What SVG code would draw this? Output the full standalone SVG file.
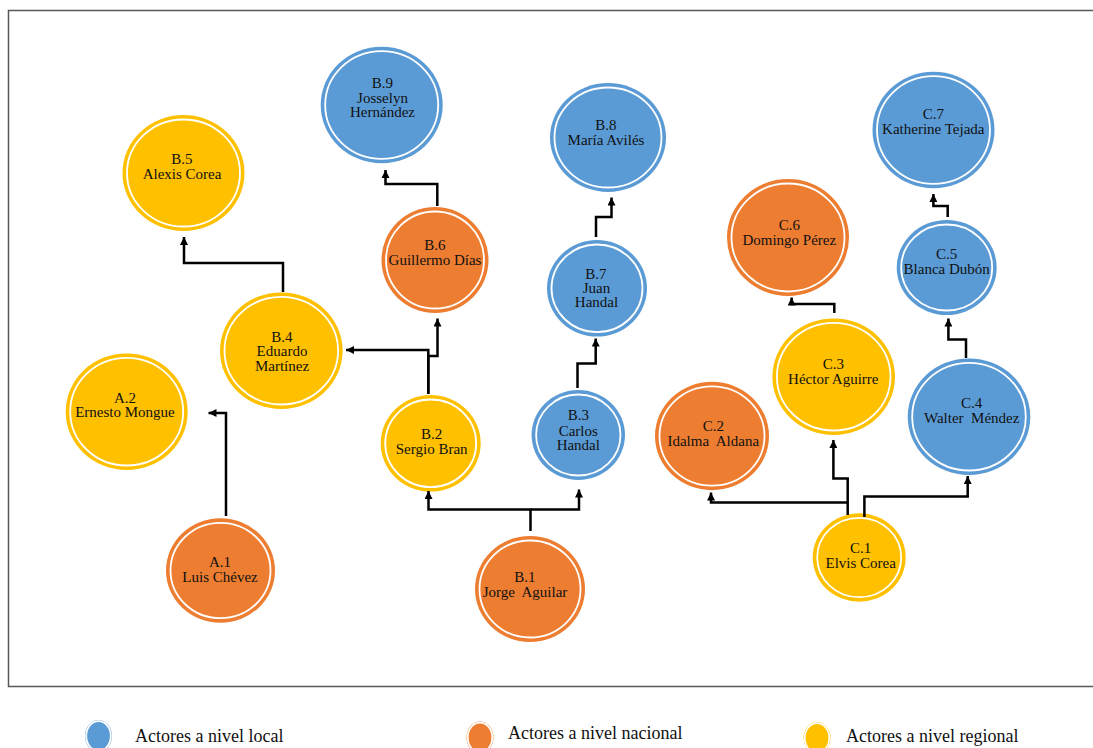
<svg xmlns="http://www.w3.org/2000/svg" width="1093" height="748" viewBox="0 0 1093 748">
<style>
.lbl{font-family:"Liberation Serif","Times New Roman",serif;font-size:15px;fill:#111;text-anchor:middle;white-space:pre}
.leg{font-family:"Liberation Serif","Times New Roman",serif;font-size:18px;fill:#111}
.blue{fill:#5B9BD5}
.orange{fill:#ED7D31}
.yellow{fill:#FFC000}
.ring{fill:none;stroke:#fff;stroke-width:1.8}
.conn path{fill:none;stroke:#000;stroke-width:2.5;marker-end:url(#ah)}
</style>
<defs>
<marker id="ah" markerUnits="userSpaceOnUse" markerWidth="8" markerHeight="8" refX="8" refY="4" orient="auto">
<path d="M0,0 L8,4 L0,8 z" fill="#000"/>
</marker>
</defs>
<rect x="0" y="0" width="1093" height="748" fill="#fff"/>
<rect x="8.5" y="10.5" width="1100" height="676" fill="none" stroke="#595959" stroke-width="1.5"/>

<g id="B5"><ellipse class="yellow" cx="183.5" cy="173" rx="61" ry="58"/><ellipse class="ring" cx="183.5" cy="173" rx="56.5" ry="53.5"/><text class="lbl" x="182" y="164">B.5</text><text class="lbl" x="182" y="179">Alexis Corea</text></g>
<g id="B9"><ellipse class="blue" cx="381.7" cy="105" rx="61" ry="58.3"/><ellipse class="ring" cx="381.7" cy="105" rx="56.5" ry="53.8"/><text class="lbl" x="382.5" y="87.5">B.9</text><text class="lbl" x="382.5" y="102.5">Josselyn</text><text class="lbl" x="382.5" y="117">Hernández</text></g>
<g id="B8"><ellipse class="blue" cx="608" cy="137.5" rx="58" ry="54.5"/><ellipse class="ring" cx="608" cy="137.5" rx="53.5" ry="50"/><text class="lbl" x="606" y="130">B.8</text><text class="lbl" x="606" y="145">María Avilés</text></g>
<g id="B6"><ellipse class="orange" cx="435" cy="260" rx="53.5" ry="53"/><ellipse class="ring" cx="435" cy="260" rx="49" ry="48.5"/><text class="lbl" x="435" y="250">B.6</text><text class="lbl" x="435" y="265">Guillermo Días</text></g>
<g id="B7"><ellipse class="blue" cx="597" cy="288.3" rx="50" ry="48.3"/><ellipse class="ring" cx="597" cy="288.3" rx="45.5" ry="43.8"/><text class="lbl" x="596" y="278.5">B.7</text><text class="lbl" x="596.5" y="293">Juan</text><text class="lbl" x="596.5" y="307">Handal</text></g>
<g id="C7"><ellipse class="blue" cx="933.5" cy="130" rx="61" ry="58.3"/><ellipse class="ring" cx="933.5" cy="130" rx="56.5" ry="53.8"/><text class="lbl" x="933.3" y="119">C.7</text><text class="lbl" x="933.3" y="133.5">Katherine Tejada</text></g>
<g id="C6"><ellipse class="orange" cx="788" cy="237.5" rx="61" ry="58.5"/><ellipse class="ring" cx="788" cy="237.5" rx="56.5" ry="54"/><text class="lbl" x="789.3" y="230">C.6</text><text class="lbl" x="789.3" y="245">Domingo Pérez</text></g>
<g id="C5"><ellipse class="blue" cx="946.7" cy="267.5" rx="50" ry="47.5"/><ellipse class="ring" cx="946.7" cy="267.5" rx="45.5" ry="43"/><text class="lbl" x="946.7" y="258.5">C.5</text><text class="lbl" x="946.7" y="273.5">Blanca Dubón</text></g>
<g id="B4"><ellipse class="yellow" cx="281.3" cy="350.7" rx="61.3" ry="58.3"/><ellipse class="ring" cx="281.3" cy="350.7" rx="56.8" ry="53.8"/><text class="lbl" x="282" y="341.7">B.4</text><text class="lbl" x="282" y="356">Eduardo</text><text class="lbl" x="282" y="370.7">Martínez</text></g>
<g id="A2"><ellipse class="yellow" cx="126.7" cy="411.7" rx="61" ry="58.3"/><ellipse class="ring" cx="126.7" cy="411.7" rx="56.5" ry="53.8"/><text class="lbl" x="125" y="402.7">A.2</text><text class="lbl" x="125" y="417.3">Ernesto Mongue</text></g>
<g id="A1"><ellipse class="orange" cx="220.5" cy="570.5" rx="54.5" ry="52.2"/><ellipse class="ring" cx="220.5" cy="570.5" rx="50" ry="47.7"/><text class="lbl" x="220" y="567">A.1</text><text class="lbl" x="220" y="582">Luis Chévez</text></g>
<g id="B2"><ellipse class="yellow" cx="430.7" cy="443.3" rx="50" ry="48.3"/><ellipse class="ring" cx="430.7" cy="443.3" rx="45.5" ry="43.8"/><text class="lbl" x="431.7" y="439.3">B.2</text><text class="lbl" x="431.7" y="454">Sergio Bran</text></g>
<g id="B3"><ellipse class="blue" cx="578.3" cy="435" rx="46.7" ry="45"/><ellipse class="ring" cx="578.3" cy="435" rx="42.2" ry="40.5"/><text class="lbl" x="578.3" y="420">B.3</text><text class="lbl" x="578.3" y="435.5">Carlos</text><text class="lbl" x="578.3" y="450">Handal</text></g>
<g id="B1"><ellipse class="orange" cx="530" cy="589" rx="55" ry="53"/><ellipse class="ring" cx="530" cy="589" rx="50.5" ry="48.5"/><text class="lbl" x="525" y="581.7">B.1</text><text class="lbl" x="525" y="596.7">Jorge  Aguilar</text></g>
<g id="C2"><ellipse class="orange" cx="712" cy="436" rx="57" ry="54.2"/><ellipse class="ring" cx="712" cy="436" rx="52.5" ry="49.7"/><text class="lbl" x="713.3" y="430.7">C.2</text><text class="lbl" x="713.3" y="445.7">Idalma  Aldana</text></g>
<g id="C3"><ellipse class="yellow" cx="833.7" cy="376.7" rx="61.3" ry="58.3"/><ellipse class="ring" cx="833.7" cy="376.7" rx="56.8" ry="53.8"/><text class="lbl" x="833.3" y="369.3">C.3</text><text class="lbl" x="833.3" y="384.3">Héctor Aguirre</text></g>
<g id="C4"><ellipse class="blue" cx="969" cy="416.7" rx="61.3" ry="58.3"/><ellipse class="ring" cx="969" cy="416.7" rx="56.8" ry="53.8"/><text class="lbl" x="971.7" y="408.3">C.4</text><text class="lbl" x="971.7" y="423.3">Walter  Méndez</text></g>
<g id="C1"><ellipse class="yellow" cx="859.2" cy="557.5" rx="46.5" ry="44.2"/><ellipse class="ring" cx="859.2" cy="557.5" rx="42" ry="39.7"/><text class="lbl" x="860.7" y="552.7">C.1</text><text class="lbl" x="860.7" y="567.7">Elvis Corea</text></g>

<g id="connectors" class="conn">
<path d="M283,292 V263 H184 V237"/>
<path d="M437.3,206 V184 H385.5 V170"/>
<path d="M596,237 V217 H611.5 V197.5"/>
<path d="M428.3,394 V350 H346"/>
<path d="M428.3,394 V356 H437.5 V318.5"/>
<path d="M577.5,388 V363.5 H595.7 V338.5"/>
<path d="M530.5,531 V509.5 H428.5 V491"/>
<path d="M530.5,509.5 H579 V489.5"/>
<path d="M226,516 V413 H208.5"/>
<path d="M834.3,313 V304 H791.6 V297.5"/>
<path d="M947.7,217 V206 H933.4 V194"/>
<path d="M966,358 V339.5 H948.4 V318.5"/>
<path d="M847.7,515 V478.5 H833.4 V440"/>
<path d="M847.7,502.5 H711 V492.5"/>
<path d="M864.4,517 V496.5 H967.7 V476"/>
</g>

<g id="legend">
<g id="leg-local"><ellipse class="blue" cx="98.5" cy="736" rx="13.5" ry="16"/><ellipse class="ring" cx="98.5" cy="736" rx="12.3" ry="14.8" stroke-width="0.8"/><text class="leg" x="135" y="741.5">Actores a nivel local</text></g>
<g id="leg-nacional"><ellipse class="orange" cx="480" cy="737.5" rx="13.5" ry="16"/><ellipse class="ring" cx="480" cy="737.5" rx="12.3" ry="14.8" stroke-width="0.8"/><text class="leg" x="508" y="739.3">Actores a nivel nacional</text></g>
<g id="leg-regional"><ellipse class="yellow" cx="817" cy="738" rx="13.5" ry="16"/><ellipse class="ring" cx="817" cy="738" rx="12.3" ry="14.8" stroke-width="0.8"/><text class="leg" x="846" y="741.7">Actores a nivel regional</text></g>
</g>
</svg>
